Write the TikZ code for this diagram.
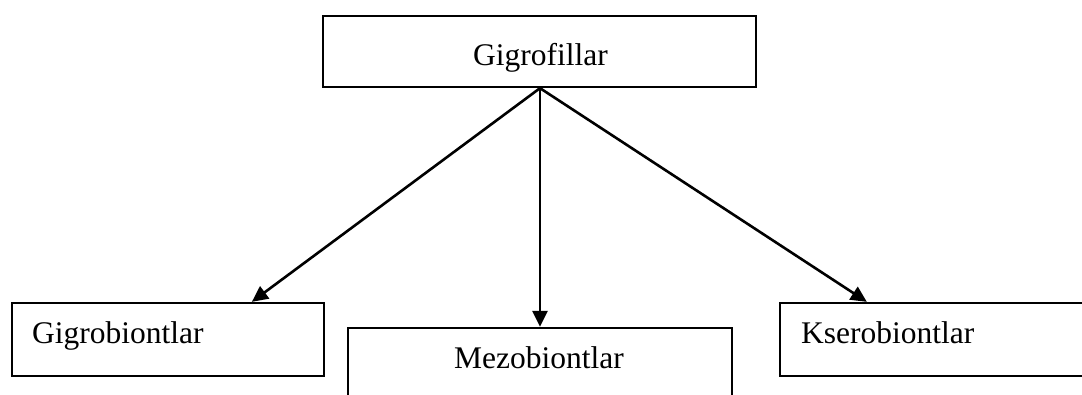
\documentclass[tikz,border=0pt]{standalone}
\usepackage{fontspec}
\setmainfont{Liberation Serif}
\usetikzlibrary{arrows.meta,positioning}
\begin{document}
\begin{tikzpicture}[x=1pt,y=-1pt,
  box/.style={draw=black,line width=2.3pt,inner sep=0pt,fill=white},
  lbl/.style={inner sep=0pt,anchor=base west,font=\fontsize{31.5}{36}\selectfont},
  arr/.style={line width=2.6pt,-{Triangle[length=16pt,width=15pt]}}]
\useasboundingbox (0,0) rectangle (1082,394);
\clip (0,0) rectangle (1082,394);
\node[box,minimum width=433pt,minimum height=71pt] (top) at (539.5,51.5) {};
\node[box,minimum width=312pt,minimum height=73pt] (gig) at (168,339.5) {};
\node[box,minimum width=384pt,minimum height=112pt] (mez) at (540,384) {};
\node[box,minimum width=330pt,minimum height=73pt] (kse) at (945,339.5) {};
\node[lbl] (tgig) at (473,65) {Gigrofillar};
\node[lbl] (tgib) at (32,343) {Gigrobiontlar};
\node[lbl] (tmez) at (454,368) {Mezobiontlar};
\node[lbl] (tkse) at (801,343) {Kserobiontlar};
\coordinate (apex) at ([xshift=0.5pt]top.south);
\coordinate (gtip) at ([xshift=241pt]gig.north west);
\coordinate (ktip) at ([xshift=88pt]kse.north west);
\draw[arr] (apex) -- (gtip);
\draw[arr] (apex) -- (mez.north);
\draw[arr] (apex) -- (ktip);
\end{tikzpicture}
\end{document}
